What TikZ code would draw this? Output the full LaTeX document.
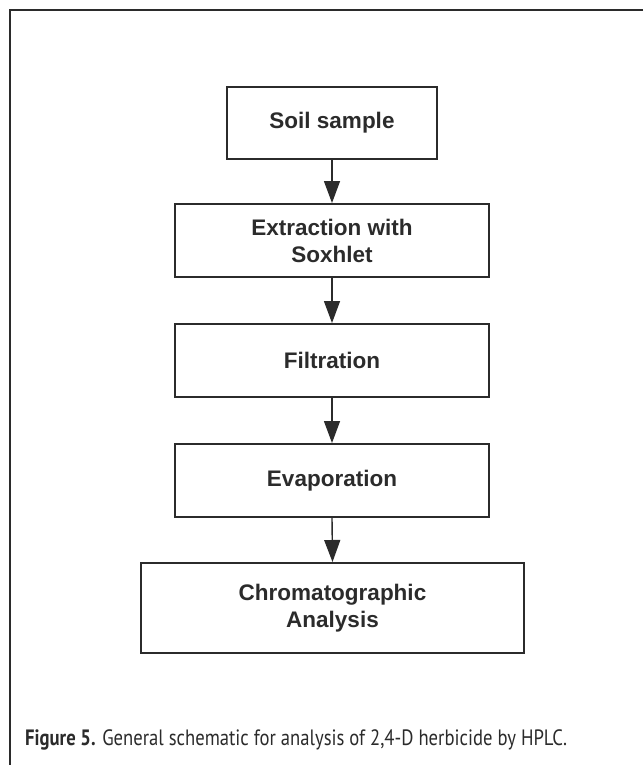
\documentclass[tikz,border=0pt]{standalone}
\usepackage{fontspec}
\setmainfont{Liberation Sans}
\newfontfamily\capfont[FakeStretch=0.84]{PT Sans}
\usetikzlibrary{arrows.meta}
\definecolor{ink}{HTML}{2B2B2B}
\tikzset{
  stepbox/.style={draw=ink, line width=2pt, fill=white, inner sep=0pt, align=center,
    font=\fontsize{22.5}{27}\selectfont\bfseries, text=ink},
  flow/.style={draw=ink, line width=1.4pt, -{Triangle[length=22pt,width=16pt]}, shorten >=0pt}
}
\begin{document}
\begin{tikzpicture}[x=1pt,y=-1pt]
\useasboundingbox (0,0) rectangle (643,765);
\fill[white] (0,0) rectangle (643,765);
\coordinate (fr1) at (643,10);
\coordinate (fr2) at (10,10);
\coordinate (fr3) at (10,765);
\draw[ink, line width=2pt] (fr1) -- (fr2) -- (fr3);
\node[stepbox, minimum width=210pt, minimum height=72pt] (soil) at (332,123) {Soil sample};
\node[stepbox, minimum width=314pt, minimum height=73pt] (extr) at (332,240.5) {Extraction with\\Soxhlet};
\node[stepbox, minimum width=314pt, minimum height=73pt] (filt) at (332,360.5) {Filtration};
\node[stepbox, minimum width=314pt, minimum height=73pt] (evap) at (332,480.5) {Evaporation};
\node[stepbox, minimum width=383pt, minimum height=90pt] (chrom) at (332.5,608) {Chromatographic\\Analysis};
\draw[flow] (soil.south) -- (extr.north);
\draw[flow] (extr.south) -- (filt.north);
\draw[flow] (filt.south) -- (evap.north);
\draw[flow] (evap.south) -- (chrom.north);
\node[anchor=base west, inner sep=0pt, text=ink, font=\capfont\fontsize{22.2}{26}\selectfont] (cap) at (25,745)
  {\textbf{Figure 5.} General schematic for analysis of 2,4-D herbicide by HPLC.};
\end{tikzpicture}
\end{document}
